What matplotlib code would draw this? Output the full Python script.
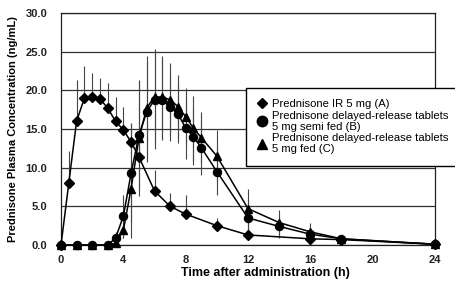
import matplotlib
matplotlib.use("Agg")
import matplotlib.pyplot as plt
from matplotlib.lines import Line2D
import numpy as np

plt.rcParams["font.family"] = ["Liberation Sans", "DejaVu Sans"]

# Prednisone IR 5 mg (A)
t_ir = [0, 0.5, 1, 1.5, 2, 2.5, 3, 3.5, 4, 4.5, 5, 6, 7, 8, 10, 12, 16, 18, 24]
conc_ir = [0, 8.0, 16.0, 19.0, 19.1, 18.9, 17.7, 16.0, 14.9, 13.3, 11.4, 7.0, 5.0, 4.0, 2.5, 1.3, 0.8, 0.7, 0.1]
sd_ir = [0, 4.1, 5.3, 4.1, 3.2, 2.7, 3.3, 3.2, 2.9, 2.5, 2.0, 2.7, 1.7, 2.5, 1.0, 0.8, 0.5, 0.3, 0]

# delayed-release tablets, semi fed (B) and fed (C)
t_dr = [0, 1, 2, 3, 3.5, 4, 4.5, 5, 5.5, 6, 6.5, 7, 7.5, 8, 8.5, 9, 10, 12, 14, 16, 18, 24]
conc_b = [0, 0, 0, 0, 0.9, 3.7, 9.3, 14.2, 17.2, 18.8, 18.8, 17.9, 17.0, 15.1, 14.0, 12.6, 9.5, 3.5, 2.4, 1.4, 0.8, 0.1]
sd_b = [0, 0, 0, 0, 0.8, 2.8, 6.4, 7.0, 6.5, 6.4, 5.2, 4.4, 3.8, 4.0, 3.7, 3.5, 3.0, 2.5, 1.5, 0.8, 0.3, 0]
conc_c = [0, 0, 0, 0, 0.2, 1.9, 7.3, 13.8, 17.7, 19.2, 19.1, 18.8, 17.9, 16.6, 15.1, 13.9, 11.5, 4.7, 2.9, 1.7, 0.8, 0.1]
sd_c = [0, 0, 0, 0, 0.3, 1.0, 6.4, 7.5, 6.7, 6.1, 5.4, 4.7, 4.1, 3.7, 4.2, 3.3, 3.4, 2.6, 1.6, 1.1, 0.3, 0]

labels = ["Prednisone IR 5 mg (A)",
          "Prednisone delayed-release tablets\n5 mg semi fed (B)",
          "Prednisone delayed-release tablets\n5 mg fed (C)"]
xticks = [0, 4, 8, 12, 16, 20, 24]
yticks = [0, 5, 10, 15, 20, 25, 30]

fig = plt.figure(figsize=(4.55, 2.84), dpi=100)
ax = fig.add_axes([61 / 455, 1 - 245 / 284, 374 / 455, 232 / 284])

ebar = dict(fmt="none", ecolor="#444444", elinewidth=0.8, capsize=0, zorder=2)
ax.errorbar(t_ir, conc_ir, yerr=[np.zeros(len(sd_ir)), sd_ir], **ebar)
ax.errorbar(t_dr, conc_b, yerr=sd_b, **ebar)
ax.errorbar(t_dr, conc_c, yerr=sd_c, **ebar)

ax.plot(t_ir, conc_ir, color="black", lw=1.1, marker="D", ms=4.8, clip_on=False, zorder=4)
ax.plot(t_dr, conc_b, color="black", lw=1.1, marker="o", ms=5.8, clip_on=False, zorder=4)
ax.plot(t_dr, conc_c, color="black", lw=1.1, marker="^", ms=6, clip_on=False, zorder=4)

ax.set_xlim(0, 24)
ax.set_ylim(0, 30)
ax.set_xticks(xticks)
ax.set_xticklabels([str(x) for x in xticks])
ax.set_yticks(yticks)
ax.set_yticklabels([f"{y:.1f}" for y in yticks])
ax.tick_params(length=0, labelsize=8, colors="#222222")
ax.tick_params(axis="y", pad=10)
ax.tick_params(axis="x", pad=7)
for lab in ax.get_xticklabels() + ax.get_yticklabels():
    lab.set_fontweight("bold")
ax.grid(axis="y", color="#333333", lw=0.9)
ax.set_axisbelow(True)
for s in ax.spines.values():
    s.set_color("#222222")
    s.set_linewidth(0.9)

ax.set_xlabel("Time after administration (h)", fontsize=9, fontweight="bold")
ax.xaxis.set_label_coords((265 - 61) / 374, -0.095)
ax.set_ylabel("Prednisone Plasma Concentration (ng/mL)", fontsize=8, fontweight="bold", labelpad=5)

handles = [Line2D([], [], color="black", marker=m, ls="none", ms=s)
           for m, s in [("D", 5.5), ("o", 7.5), ("^", 7.5)]]
leg = fig.legend(handles, labels, loc="upper left", bbox_to_anchor=(246 / 455, 1 - 88 / 284),
                 fontsize=8.1, frameon=True, fancybox=False, labelspacing=0.12,
                 handlelength=0.8, handletextpad=0.5, borderpad=1.0, borderaxespad=0)
for txt in leg.get_texts():
    txt.set_linespacing(1.15)
leg.get_frame().set_edgecolor("black")
leg.get_frame().set_linewidth(1.0)
leg.get_frame().set_alpha(1)

fig.savefig("out.png", dpi=100)
